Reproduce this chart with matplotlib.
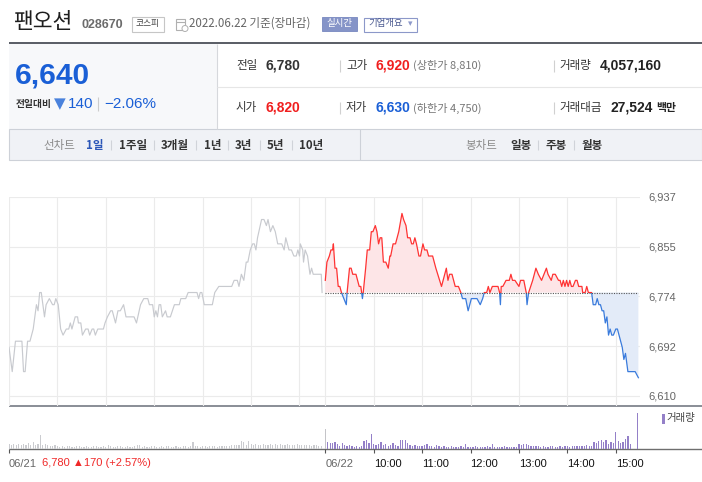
import numpy as np
import matplotlib
matplotlib.use('Agg')
import matplotlib.pyplot as plt
from matplotlib.patches import Rectangle

plt.rcParams['font.family'] = ['Noto Sans CJK KR', 'DejaVu Sans']
NUM = ['Liberation Sans', 'DejaVu Sans']

W, H = 702, 482

# ---- data ----
# minutes since 09:00, price in won
day1_min = [0, 4, 8, 16, 18, 20, 23, 26, 30, 34, 36, 38, 40, 44, 46, 50, 54, 56, 58, 61,
            64, 67, 71, 74, 76, 78, 82, 85, 86, 89, 91, 95, 98, 100, 103, 105, 107, 110, 112, 114,
            117, 119, 122, 126, 128, 132, 135, 138, 142, 145, 155, 158, 163, 167, 172, 174, 178, 180, 182, 184,
            186, 188, 190, 194, 196, 200, 205, 211, 213, 219, 222, 233, 235, 237, 239, 242, 252, 255, 260, 276,
            279, 283, 285, 288, 291, 294, 296, 299, 302, 304, 306, 308, 313, 316, 319, 321, 324, 327, 330, 333,
            338, 341, 343, 347, 350, 353, 356, 358, 360, 361, 364, 365, 367, 370, 373, 375, 377, 387, 388]
day1_price = [6690, 6650, 6700, 6700, 6650, 6650, 6700, 6700, 6720, 6760, 6750, 6780, 6780, 6740, 6760, 6770, 6760, 6760, 6770, 6760,
              6720, 6710, 6720, 6720, 6730, 6720, 6740, 6740, 6730, 6730, 6710, 6720, 6720, 6710, 6720, 6720, 6710, 6720, 6720, 6720,
              6720, 6730, 6740, 6750, 6750, 6730, 6750, 6750, 6760, 6740, 6740, 6730, 6760, 6770, 6770, 6760, 6760, 6740, 6750, 6740,
              6760, 6760, 6740, 6750, 6740, 6740, 6760, 6760, 6770, 6770, 6780, 6780, 6770, 6780, 6780, 6760, 6760, 6780, 6790, 6790,
              6800, 6800, 6790, 6810, 6800, 6830, 6830, 6850, 6860, 6860, 6850, 6870, 6900, 6900, 6890, 6900, 6880, 6890, 6880, 6860,
              6860, 6850, 6870, 6850, 6850, 6840, 6840, 6850, 6840, 6860, 6850, 6830, 6850, 6840, 6810, 6820, 6810, 6810, 6780]

day2_min = [0, 2, 5, 7, 9, 10, 12, 14, 16, 18, 20, 23, 26, 27, 30, 32, 34, 38, 40, 42,
            44, 46, 47, 50, 52, 55, 57, 59, 62, 64, 66, 68, 70, 72, 75, 78, 80, 81, 84, 87,
            91, 95, 97, 100, 102, 105, 107, 109, 111, 113, 116, 118, 121, 123, 126, 128, 133, 137, 144, 148,
            150, 152, 154, 157, 161, 165, 168, 170, 174, 177, 181, 183, 185, 188, 192, 195, 197, 200, 202, 204,
            207, 214, 216, 217, 218, 220, 224, 228, 230, 232, 235, 240, 242, 246, 249, 250, 252, 257, 261, 264,
            268, 271, 274, 276, 280, 282, 285, 289, 291, 293, 295, 297, 299, 301, 303, 305, 307, 310, 312, 314,
            318, 319, 322, 324, 326, 330, 332, 335, 337, 339, 341, 343, 345, 347, 349, 351, 353, 355, 357, 360,
            362, 364, 368, 370, 372, 375, 384, 388]
day2_price = [6800, 6830, 6840, 6850, 6850, 6860, 6820, 6820, 6790, 6790, 6780, 6770, 6760, 6780, 6820, 6820, 6810, 6810, 6800, 6790,
              6790, 6770, 6780, 6820, 6850, 6850, 6880, 6880, 6890, 6880, 6860, 6870, 6870, 6830, 6830, 6820, 6840, 6840, 6860, 6860,
              6880, 6910, 6900, 6890, 6870, 6870, 6860, 6860, 6870, 6860, 6840, 6840, 6860, 6850, 6850, 6840, 6840, 6820, 6790, 6810,
              6820, 6800, 6810, 6810, 6790, 6790, 6780, 6770, 6770, 6750, 6770, 6770, 6770, 6770, 6760, 6770, 6780, 6780, 6790, 6780,
              6790, 6790, 6780, 6760, 6790, 6790, 6800, 6800, 6810, 6800, 6800, 6790, 6800, 6800, 6780, 6760, 6780, 6800, 6820, 6810,
              6800, 6810, 6820, 6810, 6800, 6810, 6810, 6800, 6800, 6790, 6800, 6790, 6800, 6790, 6800, 6790, 6790, 6800, 6800, 6790,
              6790, 6780, 6780, 6790, 6780, 6780, 6760, 6760, 6770, 6760, 6760, 6750, 6750, 6730, 6740, 6710, 6720, 6710, 6710, 6720,
              6720, 6710, 6690, 6670, 6680, 6650, 6650, 6640]
prev_close = 6780

# volume, thousand shares per 3-minute slot
vol_step = 3
day1_vol = [15, 12, 16, 12, 15, 12, 16, 13, 18, 12, 21, 13, 15, 42,
            12, 15, 14, 11, 9, 12, 9,
            8, 10, 7, 9, 11, 8, 7, 9, 10, 8, 6, 9, 8, 7, 10, 9, 8, 7, 9, 8,
            13, 9, 8, 7, 9, 10, 8, 6, 9, 8, 7, 9, 13, 12, 8, 9, 7, 8, 9, 10,
            8, 7, 9, 8, 10, 9, 8, 7, 9, 8, 7, 9, 10, 8, 9, 20,
            9, 10, 8, 9, 10, 8, 9, 10, 9, 8, 10, 9, 11, 10, 9, 14, 13, 12, 14,
            24, 22, 14, 24, 16,
            14, 15, 13, 14, 16, 13, 14, 15, 13, 16, 14, 15, 13, 14, 15, 13, 12, 14, 15, 12,
            13, 14, 12, 13, 11, 12, 13, 10, 9]
day2_vol = [60, 21, 18, 18, 21, 15, 9, 18, 12, 9, 12, 9, 6, 9, 6,
            9, 24, 27, 18, 45, 15,
            12, 15, 21, 12, 15, 9, 12, 18, 12, 9,
            27, 27, 27, 18, 12,
            10, 12, 9, 11, 9, 12, 15, 9, 10, 8, 12, 9,
            8, 9, 7, 8, 9, 7, 6, 8, 9, 7, 15, 8, 7, 8, 9, 7, 8, 6, 7, 9, 8, 15, 7, 8, 6, 7, 9, 8, 7, 8, 6, 7, 15,
            12, 15, 15, 12, 10, 9, 11, 9,
            8, 9, 7, 8, 9, 10, 8, 7, 9, 8, 9, 10, 8, 9, 10, 9, 11, 10, 9, 12, 10, 11,
            21, 18, 24, 27, 21, 27, 15, 21, 18,
            51, 24, 18, 21, 30, 39, 15,
            0, 0, 108]

y_ticks = [6610, 6691.75, 6773.5, 6855.25, 6937]
y_labels = ['6,610', '6,692', '6,774', '6,855', '6,937']
day_labels = ['06/21', '06/22']
hour_labels = ['10:00', '11:00', '12:00', '13:00', '14:00', '15:00']

DAY2 = 392          # where 06/22 09:00 sits on the shared minute axis
X_MAX = 782

RED, BLUE = '#ff3333', '#3a7bdc'
RED_FILL, BLUE_FILL = '#fde5e7', '#e3ebf8'
GRAY_LINE = '#c8cacf'
PURPLE = '#9480c8'


def frac(x0, y0, x1, y1):
    # pixel box (y down) -> figure fraction rect
    return [x0 / W, 1 - y1 / H, (x1 - x0) / W, (y1 - y0) / H]


fig = plt.figure(figsize=(W / 100, H / 100), dpi=100)

# ---- header / frame drawn in pixel space ----
bg = fig.add_axes([0, 0, 1, 1], zorder=-1)
bg.set_xlim(0, W)
bg.set_ylim(H, 0)
bg.axis('off')


def hline(y, x0, x1, color, lw=0.8):
    bg.plot([x0, x1], [y, y], color=color, lw=lw, solid_capstyle='butt')


def vline(x, y0, y1, color, lw=0.8):
    bg.plot([x, x], [y0, y1], color=color, lw=lw, solid_capstyle='butt')


def txt(x, y, s, **kw):
    kw.setdefault('va', 'center')
    bg.text(x, y, s, **kw)


txt(13.5, 22, '팬오션', fontsize=15.5, color='#1e1e1e')
txt(81, 24.5, '028670', fontsize=9, weight='bold', color='#6b6b6b', family=NUM)
bg.add_patch(Rectangle((131.5, 16.5), 32, 15, fc='white', ec='#c6c6c6', lw=0.8))
txt(147.5, 23.5, '코스피', fontsize=6.3, ha='center', color='#444')
bg.add_patch(Rectangle((176, 19), 9, 11, fc='none', ec='#b0b0b0', lw=0.8))
hline(22, 176, 185, '#b0b0b0')
bg.add_patch(plt.Circle((185, 28.5), 3, fc='white', ec='#b0b0b0', lw=0.7))
txt(189, 23.5, '2022.06.22 기준(장마감)', fontsize=8.3, color='#666')
bg.add_patch(Rectangle((322, 17), 35, 14, fc='#8594c8', ec='#7888c0', lw=0.6))
txt(339.5, 23.5, '실시간', fontsize=6.8, ha='center', color='white')
bg.add_patch(Rectangle((363.5, 17.5), 53, 14, fc='white', ec='#8c98c9', lw=0.8))
txt(368, 23.5, '기업개요', fontsize=6.8, color='#4b5a90')
txt(408, 24, '▾', fontsize=6.5, color='#8c98c9', family=['DejaVu Sans'])

# summary box
bg.add_patch(Rectangle((9, 41.5), W - 9, 2.5, fc='#5c6068', lw=0))
bg.add_patch(Rectangle((9, 44), 208, 85, fc='#f7f8fa', lw=0))
vline(217, 44, 129, '#d6d8dc')
hline(86.5, 217, W, '#e6e6e6')
txt(14.5, 75.5, '6,640', fontsize=21.5, weight='bold', color='#1a5fd6', family=NUM)
txt(16, 104, '전일대비', fontsize=7, weight='bold', color='#333')
txt(53.5, 104, '▼', fontsize=11, color='#4a82dc', family=['DejaVu Sans'])
txt(68, 104, '140', fontsize=11, color='#1a5fd6', family=NUM)
vline(98, 97, 111, '#cccccc')
txt(104, 104, '−2.06%', fontsize=11, color='#1a5fd6', family=NUM)

rows = [
    (65.5, [('전일', '6,780', '#333'), ('고가', '6,920', '#f01e1e'), ('거래량', '4,057,160', '#222')], '(상한가 8,810)'),
    (108, [('시가', '6,820', '#f01e1e'), ('저가', '6,630', '#1a5fd6'), ('거래대금', '27,524', '#222')], '(하한가 4,750)'),
]
for y, cells, limit in rows:
    (l1, v1, c1), (l2, v2, c2), (l3, v3, c3) = cells
    txt(236, y, l1, fontsize=8.3, color='#333')
    txt(266, y, v1, fontsize=10, weight='bold', color=c1, family=NUM)
    vline(339.5, y - 6, y + 6, '#d0d0d0')
    txt(346, y, l2, fontsize=8.3, color='#333')
    txt(376, y, v2, fontsize=10, weight='bold', color=c2, family=NUM)
    txt(413, y, limit, fontsize=8, color='#777')
    vline(553.5, y - 6, y + 6, '#d0d0d0')
    txt(559, y, l3, fontsize=8.3, color='#333')
    txt(600 if l3 == '거래량' else 610.5, y, v3, fontsize=10, weight='bold', color=c3, family=NUM)
txt(656, 108, '백만', fontsize=7.8, weight='bold', color='#222')

# period tabs
bg.add_patch(Rectangle((9, 129), W - 9.5, 31, fc='#f0f2f6', ec='#cdd1d8', lw=0.8))
vline(359.5, 129, 160, '#cdd1d8')
ty = 145
txt(43, ty, '선차트', fontsize=8.3, color='#8a8a8a')
tabs = [(86, '1일'), (119, '1주일'), (161, '3개월'), (204, '1년'), (235, '3년'), (267, '5년'), (299, '10년')]
for i, (x, s) in enumerate(tabs):
    txt(x, ty, s, fontsize=8.3, weight='bold', color='#2c57b8' if i == 0 else '#333')
for x in [110.5, 153.5, 196, 228, 260, 292]:
    vline(x, ty - 5, ty + 5, '#d0d3d9')
txt(465, ty, '봉차트', fontsize=8.3, color='#8a8a8a')
for x, s in [(510, '일봉'), (546, '주봉'), (582, '월봉')]:
    txt(x, ty, s, fontsize=8.3, weight='bold', color='#333')
for x in [538, 574]:
    vline(x, ty - 5, ty + 5, '#d0d3d9')

# chart frame lines
hline(406, 9, W, '#80858d', lw=1.3)
hline(449.2, 9, W, '#6e6e6e', lw=1.0)

# ---- price chart ----
ax = fig.add_axes(frac(9, 197, 640, 406))
ax.patch.set_visible(False)
ax.set_xlim(0, X_MAX)
ax.set_ylim(6593.5, 6937)
for s in ax.spines.values():
    s.set_visible(False)

grid_x = [h * 60 for h in range(7)] + [DAY2 + h * 60 for h in range(7)]
ax.set_xticks(grid_x)
ax.set_xticklabels([])
ax.set_yticks(y_ticks)
ax.set_yticklabels(y_labels, family=NUM)
ax.yaxis.tick_right()
ax.tick_params(axis='both', length=0)
ax.tick_params(axis='y', pad=6, labelsize=8, labelcolor='#666')
ax.grid(color='#ebebeb', lw=0.8)
ax.set_axisbelow(True)

t1 = np.array(day1_min)
p1 = np.array(day1_price)
t2 = DAY2 + np.array(day2_min)
p2 = np.array(day2_price)

ax.plot(t1, p1, color=GRAY_LINE, lw=0.85)
ax.fill_between(t2, p2, prev_close, where=p2 >= prev_close, interpolate=True, color=RED_FILL, lw=0)
ax.fill_between(t2, p2, prev_close, where=p2 <= prev_close, interpolate=True, color=BLUE_FILL, lw=0)
up, = ax.plot(t2, p2, color=RED, lw=0.9)
up.set_clip_path(Rectangle((0, prev_close), X_MAX, 500, transform=ax.transData))
dn, = ax.plot(t2, p2, color=BLUE, lw=0.9)
dn.set_clip_path(Rectangle((0, 6000), X_MAX, prev_close - 6000, transform=ax.transData))
ax.plot([t2[0], t2[-1]], [prev_close, prev_close], color='#555', lw=0.8, ls=(0, (1, 1.2)))

# ---- volume chart ----
axv = fig.add_axes(frac(9, 411, 640, 449.2))
axv.patch.set_visible(False)
axv.set_xlim(0, X_MAX)
axv.set_ylim(0, 114)
for s in axv.spines.values():
    s.set_visible(False)

v1x = np.arange(len(day1_vol)) * vol_step
axv.bar(v1x, day1_vol, width=1.4, color='#cbccd0', lw=0)
v2x = DAY2 + np.arange(len(day2_vol)) * vol_step
v2c = ['#c4c4c8'] + [PURPLE] * (len(day2_vol) - 1)
axv.bar(v2x, day2_vol, width=1.6, color=v2c, lw=0)

axv.set_yticks([])
axv.set_xticks([0, DAY2] + [DAY2 + 60 * (k + 1) for k in range(len(hour_labels))])
axv.set_xticklabels(day_labels + hour_labels, family=NUM)
axv.tick_params(axis='x', length=3, width=0.8, color='#555', pad=4, labelsize=8)
for i, lbl in enumerate(axv.get_xticklabels()):
    lbl.set_ha('left')
    lbl.set_color('#666' if i < 2 else '#111')

txt(42, 462.5, '6,780 ▲170 (+2.57%)', fontsize=8, color='#f02828', family=NUM)
bg.add_patch(Rectangle((662, 414), 2.5, 10, fc=PURPLE, lw=0))
txt(666.5, 418.5, '거래량', fontsize=7.5, color='#444')

fig.savefig('out.png', dpi=100)
